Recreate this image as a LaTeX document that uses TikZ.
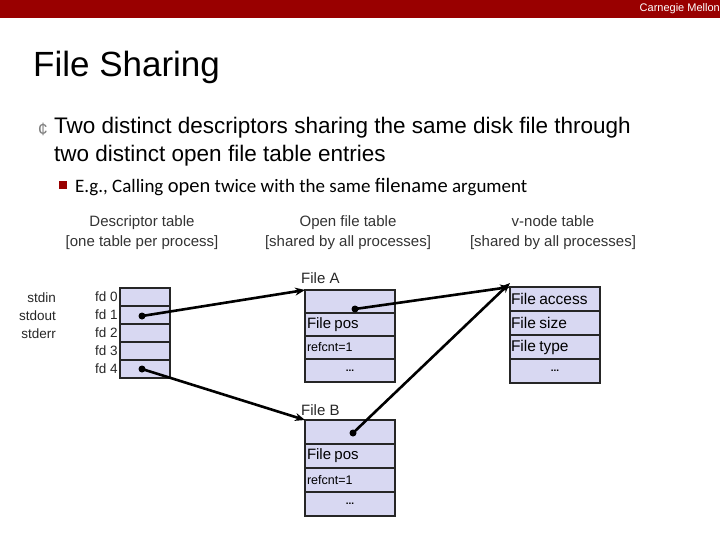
\documentclass[tikz,border=0pt]{standalone}
\usepackage{fontspec}
\setmainfont{Liberation Sans}
\newfontfamily\calfnt{Carlito}
\usetikzlibrary{arrows.meta}
\definecolor{cmured}{HTML}{990000}
\definecolor{cell}{HTML}{D8D8F2}
\begin{document}
\begin{tikzpicture}[x=1pt,y=-1pt,
  cellbox/.style={draw=black!85,line width=1.5pt,fill=cell,minimum width=#1,inner sep=0pt,outer sep=0pt,anchor=north west},
  lbl/.style={inner sep=0pt,font=\fontsize{13.5}{15}\selectfont,text=black!85},
  ptr/.style={line width=2.6pt,-{Stealth[length=10pt,width=8pt]}},
  dotn/.style={circle,fill=black,inner sep=0pt,minimum size=7pt}]
\useasboundingbox (0,0) rectangle (720,540);
\fill[cmured] (0,0) rectangle (720,18);
\node[anchor=east,text=white,font=\fontsize{11}{12}\selectfont,inner sep=0pt] (cmu) at (720,9) {Carnegie Mellon};
\node[anchor=west,inner sep=0pt,font=\fontsize{35}{40}\selectfont] (title) at (33,67) {File Sharing};
\node[inner sep=0pt,text=gray,font=\fontsize{18}{20}\selectfont] (b1) at (43,129) {¢};
\node[anchor=north west,inner sep=0pt,align=left,font=\fontsize{22.5}{28}\selectfont] (t1) at (54,117) {Two distinct descriptors sharing the same disk file through\\two distinct open file table entries};
\fill[cmured] (59,181) rectangle (67,189);
\node[anchor=west,inner sep=0pt,font=\calfnt\fontsize{19}{22}\selectfont] (t2) at (75,187) {E.g., Calling {\fontsize{20.5}{22}\selectfont open} twice with the same {\fontsize{20.5}{22}\selectfont filename} argument};
\node[align=center,font=\fontsize{15}{20}\selectfont,inner sep=0pt,text=black!80] (h1) at (142,233) {Descriptor table\\{[}one table per process{]}};
\node[align=center,font=\fontsize{15}{20}\selectfont,inner sep=0pt,text=black!80] (h2) at (348,233) {Open file table\\{[}shared by all processes{]}};
\node[align=center,font=\fontsize{15}{20}\selectfont,inner sep=0pt,text=black!80] (h3) at (553,233) {v-node table\\{[}shared by all processes{]}};
% descriptor table
\foreach \i in {0,...,4}{
  \node[lbl,anchor=west] (fdl\i) at (95,{297+18*\i}) {fd \i};
  \node[cellbox=50pt,minimum height=18pt] (fd\i) at (120,{288+18*\i}) {};
}
\node[lbl,anchor=east] (sin) at (56,298) {stdin};
\node[lbl,anchor=east] (sout) at (56,316) {stdout};
\node[lbl,anchor=east] (serr) at (56,334) {stderr};
% File A
\node[lbl,anchor=south west,font=\fontsize{15}{16}\selectfont] (fa) at (301,284) {File A};
\node[cellbox=90pt,minimum height=23pt] (a0) at (305,290) {};
\node[cellbox=90pt,minimum height=23pt,text width=86pt,align=left] (a1) at (305,313) {\fontsize{15}{16}\selectfont File pos};
\node[cellbox=90pt,minimum height=23pt,text width=86pt,align=left] (a2) at (305,336) {\fontsize{12.5}{14}\selectfont refcnt=1};
\node[cellbox=90pt,minimum height=23pt] (a3) at (305,359) {\textbf{...}};
% File B
\node[lbl,anchor=south west,font=\fontsize{15}{16}\selectfont] (fb) at (301,416) {File B};
\node[cellbox=90pt,minimum height=24pt] (b0) at (305,420) {};
\node[cellbox=90pt,minimum height=24pt,text width=86pt,align=left] (bb1) at (305,444) {\fontsize{15}{16}\selectfont File pos};
\node[cellbox=90pt,minimum height=24pt,text width=86pt,align=left] (bb2) at (305,468) {\fontsize{12.5}{14}\selectfont refcnt=1};
\node[cellbox=90pt,minimum height=24pt] (bb3) at (305,492) {\textbf{...}};
% v-node
\node[cellbox=90pt,minimum height=24pt,text width=88pt,align=left] (v0) at (510,287) {\fontsize{15.5}{16}\selectfont File access};
\node[cellbox=90pt,minimum height=24pt,text width=88pt,align=left] (v1) at (510,311) {\fontsize{15.5}{16}\selectfont File size};
\node[cellbox=90pt,minimum height=24pt,text width=88pt,align=left] (v2) at (510,335) {\fontsize{15.5}{16}\selectfont File type};
\node[cellbox=90pt,minimum height=24pt] (v3) at (510,359) {\textbf{...}};
% pointers
\node[dotn] (d1) at (142,316) {};
\node[dotn] (d4) at (142,369) {};
\node[dotn] (da) at (355,309) {};
\node[dotn] (db) at (353,433) {};
\draw[ptr] (d1.center) -- (a0.north west);
\draw[ptr] (d4.center) -- (b0.north west);
\draw[ptr] (da.center) -- (v0.north west);
\draw[ptr] (db.center) -- ([yshift=4pt]v0.north west);
\end{tikzpicture}
\end{document}
